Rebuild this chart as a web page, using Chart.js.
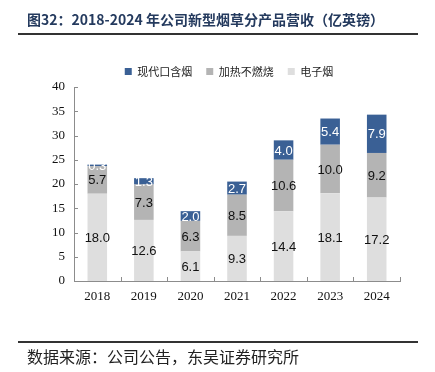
<!DOCTYPE html>
<html><head><meta charset="utf-8">
<script src="https://cdn.jsdelivr.net/npm/chart.js@4/dist/chart.umd.min.js"></script>
<style>
html,body{margin:0;padding:0;background:#fff;width:435px;height:372px;overflow:hidden;position:relative;}
#title{position:absolute;left:27px;top:9px;font:bold 14px "Noto Sans CJK SC","Liberation Serif",serif;color:#243a5e;white-space:nowrap;}
#l1{position:absolute;left:18px;top:33px;width:400px;height:2px;background:#333;}
#l2{position:absolute;left:18px;top:341px;width:400px;height:2px;background:#333;}
#src{position:absolute;left:27px;top:344px;font:16px "Noto Sans CJK SC",serif;color:#222;white-space:nowrap;}
#wrap{position:absolute;left:0;top:0;width:435px;height:372px;}
</style></head><body>
<div id="wrap"><canvas id="c" width="435" height="372"></canvas></div>
<div id="title">图32：2018-2024 年公司新型烟草分产品营收（亿英镑）</div>
<div id="l1"></div>
<div id="l2"></div>
<div id="src">数据来源：公司公告，东吴证券研究所</div>
<script>
const years = ['2018','2019','2020','2021','2022','2023','2024'];
const ecig = [18.0, 12.6, 6.1, 9.3, 14.4, 18.1, 17.2];
const hnb = [5.7, 7.3, 6.3, 8.5, 10.6, 10.0, 9.2];
const oral = [0.3, 1.3, 2.0, 2.7, 4.0, 5.4, 7.9];
const seriesNames = ['电子烟', '加热不燃烧', '现代口含烟'];
const yTicks = [0,5,10,15,20,25,30,35,40];

const labelPlugin = {
  id: 'barLabels',
  afterDatasetsDraw(chart) {
    const ctx = chart.ctx;
    ctx.save();
    ctx.font = '13px "Liberation Sans", Arial, sans-serif';
    ctx.textAlign = 'center';
    ctx.textBaseline = 'middle';
    chart.data.datasets.forEach((ds, i) => {
      const meta = chart.getDatasetMeta(i);
      ctx.fillStyle = i === 2 ? '#ffffff' : '#111111';
      meta.data.forEach((el, j) => {
        const v = ds.data[j];
        ctx.fillText(v.toFixed(1), el.x, (el.y + el.base) / 2 + 1);
      });
    });
    ctx.restore();
  }
};

const tickPlugin = {
  id: 'innerTicks',
  afterLayout(chart) {
    if (chart.legend) { chart.legend.left += 29; chart.legend.right += 29; }
  },
  afterDraw(chart) {
    const ctx = chart.ctx;
    const y = chart.scales.y;
    const a = chart.chartArea;
    ctx.save();
    ctx.strokeStyle = '#8c8c8c';
    ctx.lineWidth = 1;
    ctx.beginPath();
    yTicks.forEach(t => {
      const py = Math.round(y.getPixelForValue(t)) + 0.5;
      ctx.moveTo(a.left, py); ctx.lineTo(a.left + 4, py);
    });
    for (let i = 0; i <= years.length; i++) {
      const px = Math.round(a.left + (a.right - a.left) * i / years.length) + 0.5;
      ctx.moveTo(px, a.bottom); ctx.lineTo(px, a.bottom - 4);
    }
    ctx.stroke();
    ctx.restore();
  }
};

new Chart(document.getElementById('c'), {
  type: 'bar',
  data: {
    labels: years,
    datasets: [
      {label: seriesNames[0], data: ecig, backgroundColor: '#dedede'},
      {label: seriesNames[1], data: hnb, backgroundColor: '#b4b4b4'},
      {label: seriesNames[2], data: oral, backgroundColor: '#3a6095'}
    ]
  },
  options: {
    responsive: false,
    animation: false,
    devicePixelRatio: 1,
    layout: {padding: {left: 0, right: 35, top: 52, bottom: 66}},
    datasets: {bar: {barPercentage: 0.42, categoryPercentage: 1}},
    plugins: {
      legend: {
        reverse: true,
        labels: {
          boxWidth: 7, boxHeight: 7, padding: 14,
          font: {size: 11, family: '"Noto Sans CJK SC", serif'},
          color: '#222'
        }
      },
      tooltip: {enabled: false}
    },
    scales: {
      x: {
        stacked: true,
        grid: {display: false, drawTicks: false},
        border: {color: '#8c8c8c'},
        ticks: {padding: 8, color: '#111', font: {size: 13, family: '"Liberation Serif", serif'}},
        afterFit(s) { s.height = 25; }
      },
      y: {
        stacked: true,
        min: 0, max: 40,
        afterBuildTicks(s) { s.ticks = yTicks.map(v => ({value: v})); },
        grid: {display: false, drawTicks: false},
        border: {color: '#8c8c8c'},
        ticks: {padding: 9, color: '#111', font: {size: 13, family: '"Liberation Serif", serif'}},
        afterFit(s) { s.width = 74; }
      }
    }
  },
  plugins: [labelPlugin, tickPlugin]
});
</script>
</body></html>
